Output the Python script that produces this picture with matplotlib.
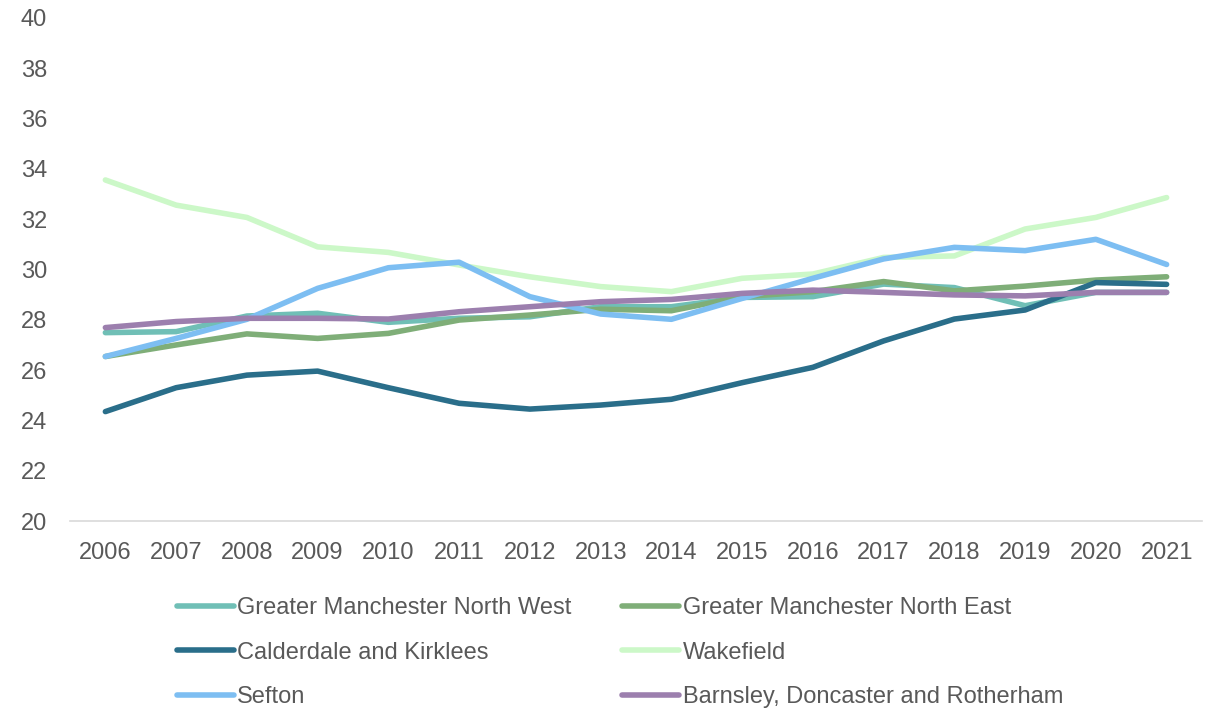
import matplotlib.pyplot as plt

plt.rcParams['font.family'] = ['Liberation Sans', 'DejaVu Sans']

years = [str(y) for y in range(2006, 2022)]

gm_north_west = [27.49, 27.53, 28.15, 28.26, 27.90, 28.06, 28.12, 28.52,
                 28.52, 28.89, 28.92, 29.42, 29.28, 28.56, 29.09, 29.09]
gm_north_east = [26.54, 27.00, 27.44, 27.26, 27.46, 27.99, 28.19, 28.42,
                 28.36, 28.92, 29.12, 29.52, 29.15, 29.34, 29.58, 29.71]
calderdale = [24.35, 25.30, 25.80, 25.96, 25.30, 24.68, 24.45, 24.61,
              24.84, 25.50, 26.11, 27.16, 28.03, 28.39, 29.48, 29.41]
wakefield = [33.56, 32.56, 32.07, 30.90, 30.68, 30.18, 29.71, 29.32,
             29.12, 29.65, 29.82, 30.48, 30.54, 31.61, 32.07, 32.86]
sefton = [26.54, 27.26, 28.02, 29.25, 30.07, 30.29, 28.92, 28.23,
          28.02, 28.85, 29.65, 30.42, 30.88, 30.75, 31.20, 30.20]
barnsley = [27.69, 27.93, 28.06, 28.06, 28.03, 28.32, 28.52, 28.72,
            28.81, 29.05, 29.18, 29.09, 28.99, 28.95, 29.09, 29.09]

series = [
    ("Greater Manchester North West", gm_north_west, "#70BFB6"),
    ("Greater Manchester North East", gm_north_east, "#7FAE78"),
    ("Calderdale and Kirklees", calderdale, "#2A6E8A"),
    ("Wakefield", wakefield, "#CCF8C8"),
    ("Sefton", sefton, "#7DBEF2"),
    ("Barnsley, Doncaster and Rotherham", barnsley, "#9C7FAE"),
]

text_col = "#595959"

fig = plt.figure(figsize=(12.19, 7.08), dpi=100)
ax = fig.add_axes([70 / 1219, 1 - 521 / 708, 1132 / 1219, 503 / 708])

lines = {}
for name, vals, col in series:
    ln, = ax.plot(range(len(years)), vals, color=col, lw=4, solid_capstyle='round',
                  solid_joinstyle='round', label=name)
    lines[name] = ln

ax.set_xlim(-0.5, len(years) - 0.5)
ax.set_ylim(20, 40)
ax.set_yticks(range(20, 41, 2))
ax.set_xticks(range(len(years)))
ax.set_xticklabels(years)
ax.tick_params(axis='both', length=0, labelsize=17, colors=text_col)
ax.tick_params(axis='y', pad=16.5)
ax.tick_params(axis='x', pad=15)
for s in ['top', 'right', 'left']:
    ax.spines[s].set_visible(False)
ax.spines['bottom'].set_color('#D9D9D9')
ax.spines['bottom'].set_linewidth(1.2)

# column-first fill so rows read left to right like the original
order = ["Greater Manchester North West", "Calderdale and Kirklees", "Sefton",
         "Greater Manchester North East", "Wakefield", "Barnsley, Doncaster and Rotherham"]
leg = fig.legend([lines[n] for n in order], order, ncol=2, frameon=False,
                 loc='upper left', bbox_to_anchor=(177 / 1219, 1 - 597 / 708),
                 fontsize=17, handlelength=2.4, handletextpad=0.15,
                 columnspacing=2.15, labelspacing=0.96, borderpad=0, borderaxespad=0)
for t in leg.get_texts():
    t.set_color(text_col)

fig.savefig("out.png", dpi=100)
